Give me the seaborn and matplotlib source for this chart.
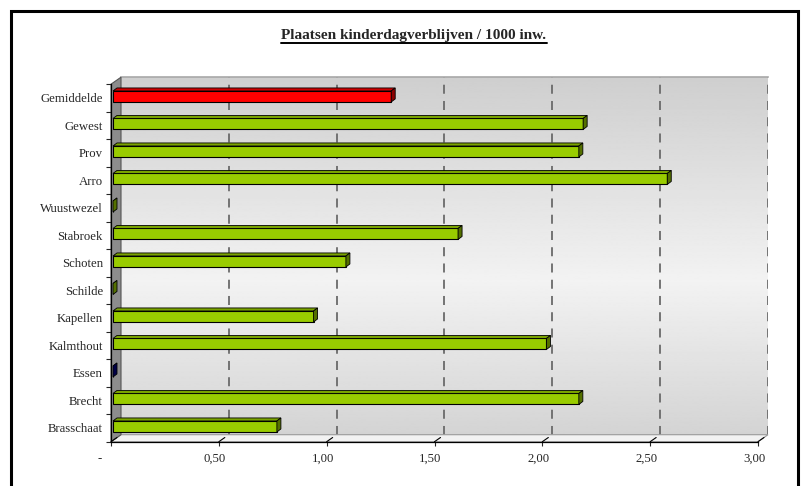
import numpy as np
import matplotlib
matplotlib.use('Agg')
import matplotlib.pyplot as plt
import matplotlib.transforms as mtransforms
from matplotlib.patches import Polygon, Rectangle
from matplotlib.lines import Line2D
from matplotlib.colors import to_rgb
import seaborn as sns

# data (top to bottom, as in the chart)
gemeenten = ['Gemiddelde', 'Gewest', 'Prov', 'Arro', 'Wuustwezel', 'Stabroek',
             'Schoten', 'Schilde', 'Kapellen', 'Kalmthout', 'Essen', 'Brecht', 'Brasschaat']
plaatsen = [1.29, 2.18, 2.16, 2.57, 0.0, 1.60, 1.08, 0.0, 0.93, 2.01, 0.0, 2.16, 0.76]
kleuren = ['#ff0000'] + ['#99cc00'] * 9 + ['#000080'] + ['#99cc00'] * 2

xticks = [0, 0.5, 1.0, 1.5, 2.0, 2.5, 3.0]
xlabels = ['-', '0,50', '1,00', '1,50', '2,00', '2,50', '3,00']
titel = 'Plaatsen kinderdagverblijven / 1000 inw.'

sns.set_theme(style='white')
plt.rcParams['font.family'] = ['Liberation Serif', 'DejaVu Serif']

W, H = 810, 486
fig = plt.figure(figsize=(8.1, 4.86), dpi=100)


def box(x0, ytop, x1, ybot):
    # pixel box (from top-left) -> figure fraction
    return [x0 / W, 1 - ybot / H, (x1 - x0) / W, (ybot - ytop) / H]


front = (111, 84.2, 758, 441.7)
depth = (10, 7)      # back wall offset in px
bdepth = (4, 3)      # depth of the bars
ylim = (12.5, -0.5)

# back wall with gradient + dashed gridlines
ax_back = fig.add_axes(box(front[0] + depth[0], front[1] - depth[1],
                           front[2] + depth[0], front[3] - depth[1]))
prof = np.interp(np.linspace(0, 1, 300), [0, 0.57, 1], [0.81, 0.95, 0.83])
ax_back.imshow(prof[:, None], cmap='gray', vmin=0, vmax=1, aspect='auto',
               extent=(0, 3, 12.5, -0.5), origin='upper', interpolation='bilinear')
ax_back.set_xlim(0, 3)
ax_back.set_ylim(*ylim)
ax_back.set_xticks(xticks[1:])
ax_back.set_yticks([])
ax_back.tick_params(length=0, labelbottom=False)
ax_back.grid(axis='x', color='#6a6a6a', linestyle=(0, (5, 4)), linewidth=1.3)
for s in ['left', 'bottom', 'right']:
    ax_back.spines[s].set_visible(False)
ax_back.spines['top'].set_color('#a8a8a8')
ax_back.spines['top'].set_linewidth(1.2)
ax_back.set_zorder(0)

# front plane: axes lines, ticks, labels
ax = fig.add_axes(box(*front))
ax.set_facecolor('none')
ax.set_xlim(0, 3)
ax.set_ylim(*ylim)
for s in ['top', 'right']:
    ax.spines[s].set_visible(False)
for s in ['left', 'bottom']:
    ax.spines[s].set_color('black')
    ax.spines[s].set_linewidth(0.9)
ax.set_yticks(range(len(gemeenten)))
ax.set_yticklabels(gemeenten, fontsize=9.2)
ax.set_yticks(np.arange(-0.5, len(gemeenten), 1), minor=True)
ax.tick_params(axis='y', which='major', length=0, pad=5.8)
ax.tick_params(axis='y', which='minor', length=3.8, width=0.8, direction='out', left=True)
ax.set_xticks(xticks)
ax.set_xticklabels([''] * len(xticks))
ax.tick_params(axis='x', length=3.2, width=0.8, direction='out', bottom=True)
for v, lab in zip(xticks, xlabels):
    off = -11 if lab == '-' else -4
    tr = mtransforms.offset_copy(ax.get_xaxis_transform(), fig=fig, x=off, y=-17.5, units='dots')
    ax.text(v, 0, lab, transform=tr, ha='center', va='center', fontsize=9.2, clip_on=False)
ax.set_zorder(1)

# bars (sitting a little behind the front plane)
ax_bar = fig.add_axes(box(front[0] + 2, front[1] - 1.5, front[2] + 2, front[3] - 1.5))
ax_bar.set_facecolor('none')
sns.barplot(x=plaatsen, y=gemeenten, hue=gemeenten, palette=kleuren, legend=False,
            orient='h', width=0.4, saturation=1, edgecolor='black', linewidth=0.8, ax=ax_bar)
ax_bar.set_xlim(0, 3)
ax_bar.set_ylim(*ylim)
ax_bar.axis('off')
ax_bar.set_zorder(2)

inv = fig.transFigure.inverted()

# floor and left side wall
fr = ax.transData.transform
bk = ax_back.transData.transform
floor = [fr((0, 12.5)), fr((3, 12.5)), bk((3, 12.5)), bk((0, 12.5))]
fig.add_artist(Polygon(inv.transform(floor), closed=True, facecolor='#f2f2f2',
                       edgecolor='#9a9a9a', linewidth=0.8, transform=fig.transFigure, zorder=0.5))
wall = [fr((0, -0.5)), fr((0, 12.5)), bk((0, 12.5)), bk((0, -0.5))]
fig.add_artist(Polygon(inv.transform(wall), closed=True, facecolor='#8c8c8c',
                       edgecolor='#555555', linewidth=0.8, transform=fig.transFigure, zorder=0.5))
for v in xticks:
    a = fr((v, 12.5))
    b = a + 0.6 * (bk((v, 12.5)) - a)
    p = inv.transform([a, b])
    fig.add_artist(Line2D(p[:, 0], p[:, 1], color='black', linewidth=0.8,
                          transform=fig.transFigure, zorder=1.5))

# 3D faces of the bars
for p in ax_bar.patches:
    bb = p.get_window_extent()
    x0, y0, x1, y1 = bb.x0, bb.y0, bb.x1, bb.y1
    dx, dy = bdepth
    rgb = np.array(to_rgb(p.get_facecolor()))
    side = [(x1, y0), (x1, y1), (x1 + dx, y1 + dy), (x1 + dx, y0 + dy)]
    top = [(x0, y1), (x1, y1), (x1 + dx, y1 + dy), (x0 + dx, y1 + dy)]
    fig.add_artist(Polygon(inv.transform(top), closed=True, facecolor=rgb * 0.8,
                           edgecolor='black', linewidth=0.6, transform=fig.transFigure, zorder=3))
    fig.add_artist(Polygon(inv.transform(side), closed=True, facecolor=rgb * 0.55,
                           edgecolor='black', linewidth=0.6, transform=fig.transFigure, zorder=3))

# title with underline
t = fig.text(414 / W, 1 - 36 / H, titel, ha='center', va='center', fontsize=11,
             fontweight='bold', family='Liberation Serif')
renderer = fig.canvas.get_renderer()
tb = t.get_window_extent(renderer)
fig.add_artist(Line2D([tb.x0 / W, tb.x1 / W], [1 - 43.3 / H, 1 - 43.3 / H], color='black',
                      linewidth=1.4, transform=fig.transFigure))

# outer frame (runs off the bottom of the picture)
fig.add_artist(Rectangle((11 / W, -0.05), (797.5 - 11) / W, 1 - 10.8 / H + 0.05, fill=False,
                         edgecolor='black', linewidth=2.2, transform=fig.transFigure, clip_on=False))

fig.savefig('out.png', dpi=100)
